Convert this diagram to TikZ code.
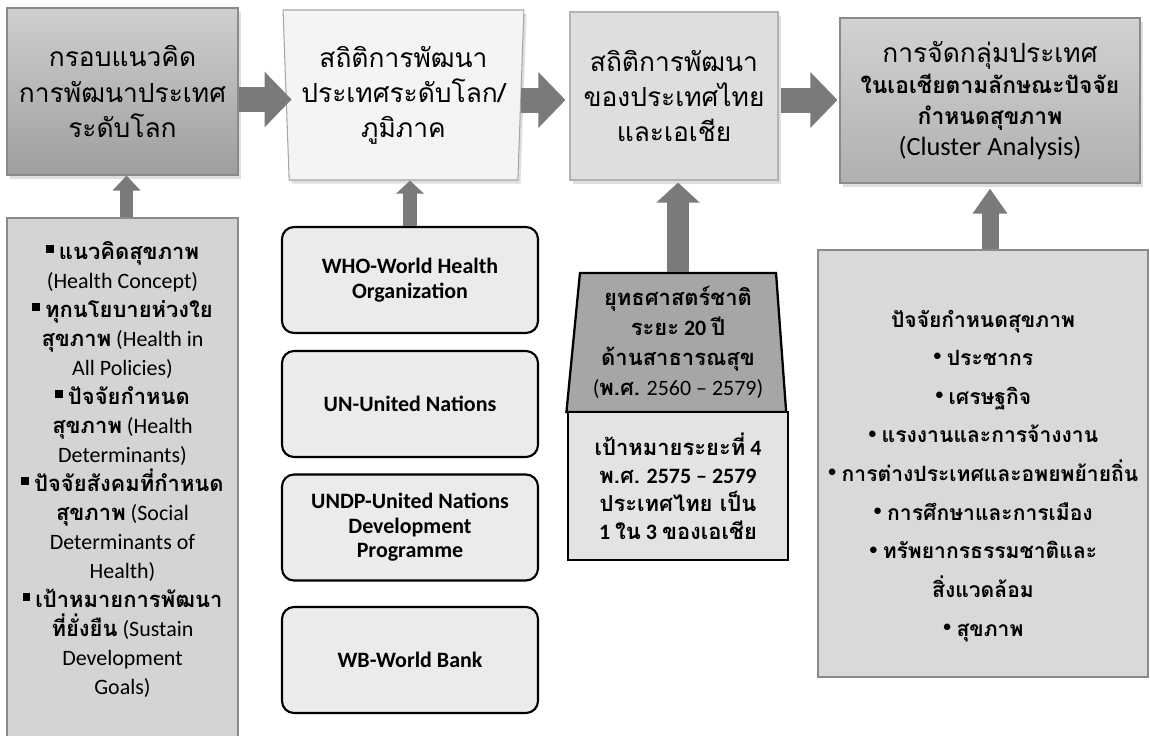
\documentclass[tikz,border=0pt]{standalone}
\usepackage{fontspec}
\setmainfont{Carlito}
\newfontfamily\tf[Script=Thai]{Loma}
\usepackage{xcolor}
\usetikzlibrary{shapes.geometric,arrows.meta,positioning,shadows}

\definecolor{flowgray}{HTML}{7A7A7A}
\definecolor{edgegray}{HTML}{8A8A8A}
\definecolor{conctop}{HTML}{CFCFCF}
\definecolor{concbot}{HTML}{9E9E9E}
\definecolor{globfill}{HTML}{F4F4F4}
\definecolor{asiafill}{HTML}{DEDEDE}
\definecolor{clustop}{HTML}{D2D2D2}
\definecolor{clusbot}{HTML}{B0B0B0}
\definecolor{listfill}{HTML}{D4D4D4}
\definecolor{orgfill}{HTML}{EBEBEB}
\definecolor{stratfill}{HTML}{A6A6A6}
\definecolor{goalfill}{HTML}{E3E3E3}
\definecolor{factfill}{HTML}{D9D9D9}

\newdimen\px \px=0.02cm
\newcommand{\tb}[1]{{\tf\bfseries #1}}
\newcommand{\sqb}{\rule[0.3em]{0.36em}{0.36em}}
\newcommand{\bul}{\raisebox{0.18em}{\rmfamily\fontsize{10.5}{10.5}\selectfont\textbullet}}

\begin{document}
\begin{tikzpicture}[x=0.02cm, y=-0.02cm,
    topbox/.style={rectangle, draw=edgegray, line width=0.6pt, align=center,
        drop shadow={opacity=0.25, shadow xshift=1.5pt, shadow yshift=-2pt},
        font=\fontsize{15}{20}\selectfont\tf},
    srcbox/.style={rectangle, draw=edgegray, line width=0.6pt, fill=#1},
    orgbox/.style={rectangle, rounded corners=12\px, draw=black, line width=1.2pt,
        fill=orgfill, minimum width=256\px, minimum height=106\px, align=center,
        font=\fontsize{12.5}{14}\selectfont\bfseries},
    boldbox/.style={draw=black, line width=1.3pt, align=center, inner sep=0pt,
        font=\fontsize{12.5}{17}\selectfont},
    listtext/.style={align=center, inner sep=0pt},
    sideflow/.style={draw=flowgray, line width=0.5cm, -{Triangle[width=1.08cm,length=0.54cm]}},
    upflow/.style n args={3}{draw=flowgray, line width=#1, -{Triangle[width=#2,length=#3]}}
]
    \useasboundingbox (0,0) rectangle (1150,735);

    \node[topbox, top color=conctop, bottom color=concbot,
        minimum width=231\px, minimum height=167\px] (concept) at (122.5,91.5)
        {กรอบแนวคิด\\การพัฒนาประเทศ\\ระดับโลก};
    \node[topbox, trapezium, trapezium left angle=93, trapezium right angle=93,
        trapezium stretches=true, fill=globfill, draw=gray!70,
        minimum width=241\px, minimum height=170\px] (global) at (403.5,95)
        {สถิติการพัฒนา\\ประเทศระดับโลก/\\ภูมิภาค};
    \node[topbox, fill=asiafill, draw=gray!60,
        minimum width=208\px, minimum height=168\px] (asia) at (674,96)
        {สถิติการพัฒนา\\ของประเทศไทย\\และเอเชีย};
    \node[topbox, top color=clustop, bottom color=clusbot, font=\fontsize{15}{17.6}\selectfont\tf,
        minimum width=300\px, minimum height=165\px] (cluster) at (990,100.5)
        {การจัดกลุ่มประเทศ\\{\fontsize{13}{17.6}\selectfont\bfseries ในเอเชียตามลักษณะปัจจัย}\\
        {\fontsize{13}{17.6}\selectfont\bfseries กำหนดสุขภาพ}\\{\rmfamily (Cluster Analysis)}};

    \node[srcbox=listfill, minimum width=231\px, minimum height=527\px] (health) at (122.5,481.5) {};
    \node[listtext, below=24\px of health.north, font=\fontsize{12.5}{16.5}\selectfont] (healthlist)
        {\sqb\ \tb{แนวคิดสุขภาพ}\\
        (Health Concept)\\
        \sqb\ \tb{ทุกนโยบายห่วงใย}\\
        \tb{สุขภาพ} (Health in\\
        All Policies)\\
        \sqb\ \tb{ปัจจัยกำหนด}\\
        \tb{สุขภาพ} (Health\\
        Determinants)\\
        \sqb\ \tb{ปัจจัยสังคมที่กำหนด}\\
        \tb{สุขภาพ} (Social\\
        Determinants of\\
        Health)\\
        \sqb\ \tb{เป้าหมายการพัฒนา}\\
        \tb{ที่ยั่งยืน} (Sustain\\
        Development\\
        Goals)};

    \node[orgbox] (who) at (410,280) {WHO-World Health\\Organization};
    \node[orgbox] (un) at (410,404) {UN-United Nations};
    \node[orgbox] (undp) at (410,527.5) {UNDP-United Nations\\Development\\Programme};
    \node[orgbox] (wb) at (410,660) {WB-World Bank};

    \node[boldbox, trapezium, trapezium left angle=84, trapezium right angle=85.5,
        trapezium stretches=true, fill=stratfill,
        minimum width=220\px, minimum height=139\px] (strategy) at (678,342.5)
        {\tb{ยุทธศาสตร์ชาติ}\\
        \tb{ระยะ} \textbf{20} \tb{ปี}\\
        \tb{ด้านสาธารณสุข}\\
        (\tb{พ.ศ.} 2560 – 2579)};
    \node[boldbox, rectangle, fill=goalfill, font=\fontsize{12.5}{16}\selectfont,
        minimum width=220\px, minimum height=148\px] (goal) at (678,486)
        {\tb{เป้าหมายระยะที่} \textbf{4}\\
        \tb{พ.ศ.} \textbf{2575 – 2579}\\
        \tb{ประเทศไทย เป็น}\\
        \textbf{1} \tb{ใน} \textbf{3} \tb{ของเอเชีย}};

    \node[srcbox=factfill, minimum width=330\px, minimum height=427\px] (factors) at (983,463.5) {};
    \node[listtext, below=60\px of factors.north, font=\fontsize{12}{22}\selectfont] (factorlist)
        {\tb{ปัจจัยกำหนดสุขภาพ}\\
        \bul\ \tb{ประชากร}\\
        \bul\ \tb{เศรษฐกิจ}\\
        \bul\ \tb{แรงงานและการจ้างงาน}\\
        \bul\ \tb{การต่างประเทศและอพยพย้ายถิ่น}\\
        \bul\ \tb{การศึกษาและการเมือง}\\
        \bul\ \tb{ทรัพยากรธรรมชาติและ}\\
        \tb{สิ่งแวดล้อม}\\
        \bul\ \tb{สุขภาพ}};

    \draw[sideflow, shorten >=-6\px] ([yshift=-8\px]concept.east) -- ([yshift=-8\px]concept.east -| global.west);
    \draw[sideflow, shorten >=4\px] ([yshift=-5\px]global.east) -- ([yshift=-5\px]global.east -| asia.west);
    \draw[sideflow, shorten <=2\px, shorten >=2\px] ([yshift=-4\px]asia.east) -- ([yshift=-4\px]asia.east -| cluster.west);

    \draw[upflow={0.26cm}{0.54cm}{0.3cm}] ([xshift=4\px]health.north) -- ([xshift=4\px]concept.south);
    \draw[upflow={0.28cm}{0.54cm}{0.26cm}] (who.north) -- (who.north |- global.south);
    \draw[upflow={0.44cm}{0.84cm}{0.4cm}, shorten >=2\px] (strategy.north) -- (strategy.north |- asia.south);
    \draw[upflow={0.34cm}{0.66cm}{0.5cm}, shorten >=5\px] (cluster.south |- factors.north) -- (cluster.south);
\end{tikzpicture}
\end{document}
